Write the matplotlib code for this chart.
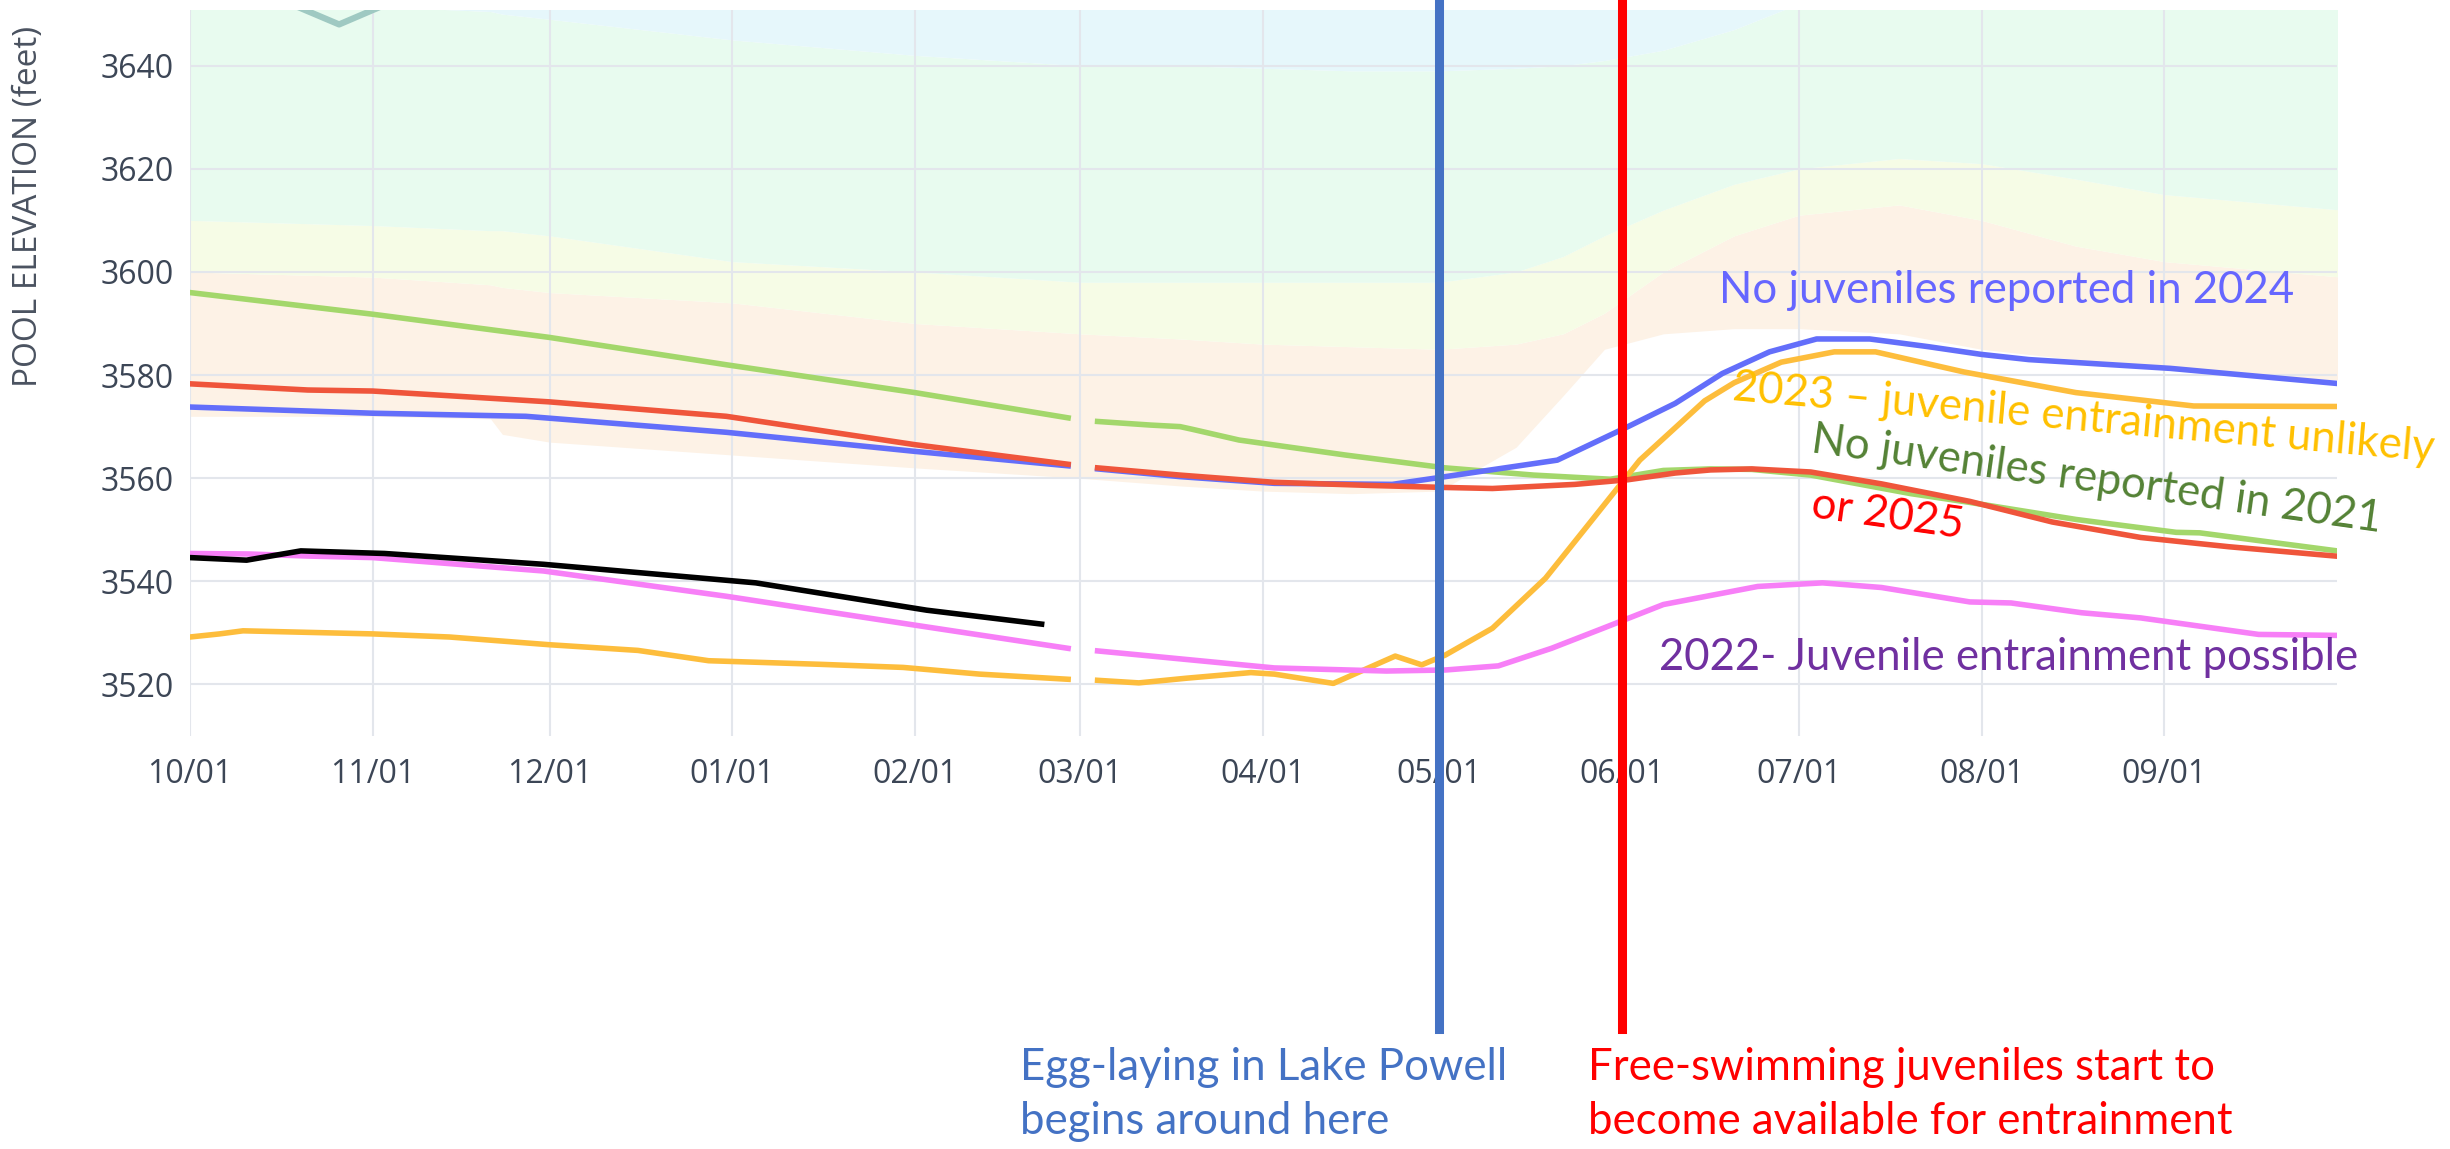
import numpy as np
import matplotlib
matplotlib.use("Agg")
import matplotlib.pyplot as plt

# water-year day (0 = Oct 1) for month ticks
month_days = [0, 31, 61, 92, 123, 151, 182, 212, 243, 273, 304, 335]
month_labels = ["10/01", "11/01", "12/01", "01/01", "02/01", "03/01",
                "04/01", "05/01", "06/01", "07/01", "08/01", "09/01"]
nan = np.nan

# historical shading bands (boundaries in feet)
bg_days = [0, 31, 51, 53, 61, 92, 123, 151, 168, 182, 197, 212, 225, 233, 240, 250, 262, 273, 290, 304, 320, 335, 365]
peach_lo = [3572, 3572, 3571.5, 3568.5, 3567, 3564.5, 3562, 3560, 3558.5, 3557.5, 3557, 3557.5, 3566, 3576, 3585, 3588,
            3589, 3589, 3588, 3585, 3583, 3581, 3579]
peach_hi = [3600, 3599, 3597.5, 3597, 3596, 3594, 3590, 3588, 3587, 3586, 3585.5, 3585, 3586, 3588, 3592, 3600, 3607,
            3611, 3613, 3610, 3605, 3602, 3599]
yellow_hi = [3610, 3609, 3608, 3608, 3607, 3602, 3600, 3598, 3598, 3598, 3598, 3598, 3600, 3603, 3607, 3612, 3617,
             3620, 3622, 3621, 3618, 3615, 3612]
mint_hi = [3652, 3651.5, 3650.5, 3650, 3649, 3645, 3642, 3640, 3640, 3639.5, 3639, 3639, 3639.5, 3640, 3641, 3643, 3647,
           3652, 3652, 3652, 3652, 3652, 3652]
top_edge = [3652] * len(bg_days)

# yearly pool elevation traces
d2021 = [0, 31, 61, 91, 123, 149, 151.5, 154, 163, 168, 170, 178, 196, 213, 228, 241, 250, 258, 265, 275, 292, 302, 320, 337, 341, 365]
v2021 = [3596, 3591.8, 3587.3, 3582, 3576.6, 3571.7, nan, 3571, 3570.3, 3570, 3569.5, 3567.4, 3564.5, 3562, 3560.6, 3559.8,
         3561.5, 3561.8, 3561.7, 3560.6, 3557, 3555.3, 3552, 3549.5, 3549.4, 3545.8]

d2025 = [0, 20, 31, 61, 91, 123, 149, 151.5, 154, 168, 184, 200, 213, 221, 235, 244, 252, 258, 265, 275, 287, 302, 316, 331, 346, 365]
v2025 = [3578.3, 3577.1, 3576.9, 3574.8, 3572, 3566.5, 3562.7, nan, 3562, 3560.6, 3559.2, 3558.6, 3558.2, 3558, 3558.8,
         3559.7, 3561, 3561.6, 3561.8, 3561.2, 3558.9, 3555.5, 3551.5, 3548.5, 3546.7, 3544.8]

d2024 = [0, 31, 57, 91, 123, 149, 151.5, 154, 168, 184, 204, 213, 232, 244, 252, 260, 268, 276, 285, 295, 304, 312, 336, 365]
v2024 = [3573.8, 3572.6, 3572, 3568.9, 3565.2, 3562.4, nan, 3561.8, 3560.3, 3559, 3558.8, 3560.3, 3563.5, 3570, 3574.5,
         3580.3, 3584.5, 3587, 3587, 3585.5, 3584, 3583, 3581.3, 3578.3]

d2023 = [0, 5, 9, 31, 44, 61, 76, 88, 107, 121, 134, 149, 151.5, 154, 161, 169, 180, 184, 194, 204.5, 209, 213, 221, 230,
         237, 246, 257, 262, 270, 279, 286, 301, 320, 340, 365]
v2023 = [3529.2, 3529.8, 3530.4, 3529.8, 3529.2, 3527.7, 3526.6, 3524.6, 3523.9, 3523.3, 3522, 3521, nan, 3520.8, 3520.3,
         3521.2, 3522.3, 3522, 3520.2, 3525.5, 3523.8, 3525.7, 3530.9, 3540.6, 3550.6, 3563.5, 3575, 3578.5, 3582.5,
         3584.5, 3584.5, 3580.6, 3576.6, 3574, 3573.9]

d2022 = [0, 10, 20, 31, 60, 91, 123, 149, 151.5, 154, 184, 203, 213, 222, 231, 240, 250, 266, 277, 287, 302, 309, 321, 331, 351, 365]
v2022 = [3545.4, 3545.3, 3544.9, 3544.6, 3542, 3537.1, 3531.5, 3527, nan, 3526.5, 3523.2, 3522.6, 3522.8, 3523.6, 3527,
         3531, 3535.5, 3539, 3539.7, 3538.8, 3536, 3535.8, 3533.9, 3532.9, 3529.7, 3529.5]

d_now = [0, 9.6, 18.8, 33, 60, 96, 125, 144.5]
v_now = [3544.6, 3544.1, 3545.9, 3545.4, 3543.3, 3539.7, 3534.4, 3531.7]

d_max = [16, 25.3, 34.5]
v_max = [3652.5, 3648, 3652.5]

egg_day = 212
swim_day = 243

W, H = 2450, 1149
fig = plt.figure(figsize=(W / 100, H / 100), dpi=100)
ax_left, ax_right, ax_top, ax_bot = 190, 2337, 10, 736
ax = fig.add_axes([ax_left / W, 1 - ax_bot / H, (ax_right - ax_left) / W, (ax_bot - ax_top) / H])

bands = [
    (peach_lo, peach_hi, "#fdf2e6"),
    (peach_hi, yellow_hi, "#f6fce6"),
    (yellow_hi, mint_hi, "#e8fbef"),
    (mint_hi, top_edge, "#e6f7fb"),
]
for lo, hi, c in bands:
    ax.fill_between(bg_days, lo, hi, color=c, lw=0, zorder=0.1)

lw = 4
ax.plot(d_max, v_max, color="#9fc9c2", lw=4.5, zorder=2)
ax.plot(d2021, v2021, color="#a3d76b", lw=lw, zorder=2)
ax.plot(d2023, v2023, color="#fdbd3c", lw=lw, zorder=2)
ax.plot(d2022, v2022, color="#f77ff7", lw=lw, zorder=2)
ax.plot(d2025, v2025, color="#ef553b", lw=lw, zorder=2.2)
ax.plot(d2024, v2024, color="#636efa", lw=lw, zorder=2.1)
ax.plot(d_now, v_now, color="black", lw=lw, zorder=2.3)

ax.set_xlim(0, 364.3)
ax.set_ylim(3510, 3650.8)
ax.set_xticks(month_days)
ax.set_xticklabels(month_labels)
ax.set_yticks([3520, 3540, 3560, 3580, 3600, 3620, 3640])
ax.set_axisbelow(True)
ax.grid(True, color="#e3e6ec", lw=1.5)
for s in ax.spines.values():
    s.set_visible(False)
ax.tick_params(length=0, labelsize=23, labelcolor="#3c4656")
ax.tick_params(axis="y", pad=12)
ax.tick_params(axis="x", pad=16)
for lab in ax.get_xticklabels() + ax.get_yticklabels():
    lab.set_family("Open Sans")

ax.set_ylabel("POOL ELEVATION (feet)", fontsize=24, color="#4a5260", family="Open Sans")
ax.yaxis.set_label_coords((45 - ax_left) / (ax_right - ax_left), (ax_bot - 206) / (ax_bot - ax_top))

# markers for spawning / juvenile timing, running below the axes
ymin = (ax_bot - 1029) / (ax_bot - ax_top)
ymax = ax_bot / (ax_bot - ax_top)
ax.axvline(egg_day, ymin=ymin, ymax=ymax, color="#4472c4", lw=6.5, clip_on=False, zorder=3)
ax.axvline(swim_day, ymin=ymin, ymax=ymax, color="#ff0000", lw=6.5, clip_on=False, zorder=3)

fam = "Lato"
fs = 31.5
fig.text(1719 / W, 1 - 290 / H, "No juveniles reported in 2024", color="#6666ff",
         fontsize=fs, family=fam, ha="left", va="center")
fig.text(1733 / W, 1 - 388 / H, "2023 \u2013 juvenile entrainment unlikely", color="#ffc000",
         fontsize=fs, family=fam, ha="left", va="center", rotation=-5, rotation_mode="anchor")
fig.text(1812 / W, 1 - 440 / H, "No juveniles reported in 2021", color="#548235",
         fontsize=fs, family=fam, ha="left", va="center", rotation=-8, rotation_mode="anchor")
fig.text(1812 / W, 1 - 505 / H, "or 2025", color="#ff0000",
         fontsize=fs, family=fam, ha="left", va="center", rotation=-8, rotation_mode="anchor")
fig.text(1659 / W, 1 - 658 / H, "2022- Juvenile entrainment possible", color="#7030a0",
         fontsize=fs, family=fam, ha="left", va="center")

fig.text(1020 / W, 1 - 1067 / H, "Egg-laying in Lake Powell", color="#4472c4",
         fontsize=fs, family=fam, ha="left", va="center")
fig.text(1020 / W, 1 - 1122 / H, "begins around here", color="#4472c4",
         fontsize=fs, family=fam, ha="left", va="center")
fig.text(1588 / W, 1 - 1067 / H, "Free-swimming juveniles start to", color="#ff0000",
         fontsize=fs, family=fam, ha="left", va="center")
fig.text(1588 / W, 1 - 1122 / H, "become available for entrainment", color="#ff0000",
         fontsize=fs, family=fam, ha="left", va="center")

fig.savefig("out.png", dpi=100, facecolor="white")
